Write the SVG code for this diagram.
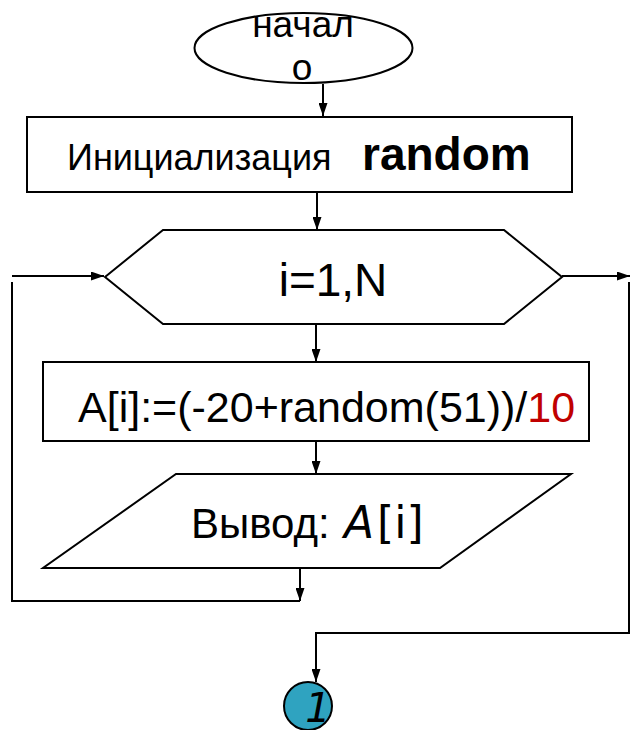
<svg xmlns="http://www.w3.org/2000/svg" width="631" height="730" viewBox="0 0 631 730">
<style>
.shape{fill:#fff;stroke:#000;stroke-width:2}
.conn{fill:none;stroke:#000;stroke-width:2}
.t{font-family:"Liberation Sans",Arial,sans-serif;fill:#000}
.c{font-family:"DejaVu Sans",sans-serif;fill:#000}
</style>
<defs>
<marker id="arr" viewBox="0 0 13 9" refX="13" refY="4.5" markerWidth="6.5" markerHeight="4.5" orient="auto" markerUnits="strokeWidth">
<path d="M0,0 L13,4.5 L0,9 z" fill="#000"/>
</marker>
</defs>
<g id="connectors">
<path class="conn" d="M323,84 V116" marker-end="url(#arr)"/>
<path class="conn" d="M317,192 V230" marker-end="url(#arr)"/>
<path class="conn" d="M316,325 V362" marker-end="url(#arr)"/>
<path class="conn" d="M316,442 V474" marker-end="url(#arr)"/>
<path class="conn" d="M300,569 V601" marker-end="url(#arr)"/>
<path class="conn" d="M300,601 H12 V282"/>
<path class="conn" d="M12,276 H104" marker-end="url(#arr)"/>
<path class="conn" d="M562,276 H630" marker-end="url(#arr)"/>
<path class="conn" d="M629,282 V633 H316 V682" marker-end="url(#arr)"/>
</g>
<g id="start">
<ellipse class="shape" cx="303.5" cy="48" rx="109" ry="35"/>
<text class="t" x="303" y="37" font-size="37" text-anchor="middle">начал</text>
<text class="t" x="302" y="80" font-size="37" text-anchor="middle">о</text>
</g>
<g id="init">
<rect class="shape" x="27" y="117" width="545" height="75"/>
<text class="t" x="67" y="170" font-size="36">Инициализация</text>
<text class="t" x="362" y="170" font-size="46" font-weight="bold">random</text>
</g>
<g id="loop">
<polygon class="shape" points="105,277 163,230 504,230 562,277 504,324 163,324"/>
<text class="t" x="333" y="296" font-size="46" text-anchor="middle">i=1,N</text>
</g>
<g id="assign">
<rect class="shape" x="43" y="362" width="546" height="79"/>
<text class="t" x="78" y="422" font-size="43">A[i]:=(-20+random(51))/<tspan fill="#c00000">10</tspan></text>
</g>
<g id="output">
<polygon class="shape" points="176,474 571,474 440,568 43,568"/>
<text class="t" x="191" y="538" font-size="42">Вывод: <tspan class="c" x="344" font-size="44" font-style="italic">A</tspan><tspan class="c" font-size="44" dx="3">[i]</tspan></text>
</g>
<g id="connector1">
<ellipse cx="308" cy="706" rx="24" ry="24" fill="#2fa3c0" stroke="#000" stroke-width="2"/>
<text class="c" x="318" y="722" font-size="40" font-style="italic" text-anchor="middle">1</text>
</g>
</svg>
